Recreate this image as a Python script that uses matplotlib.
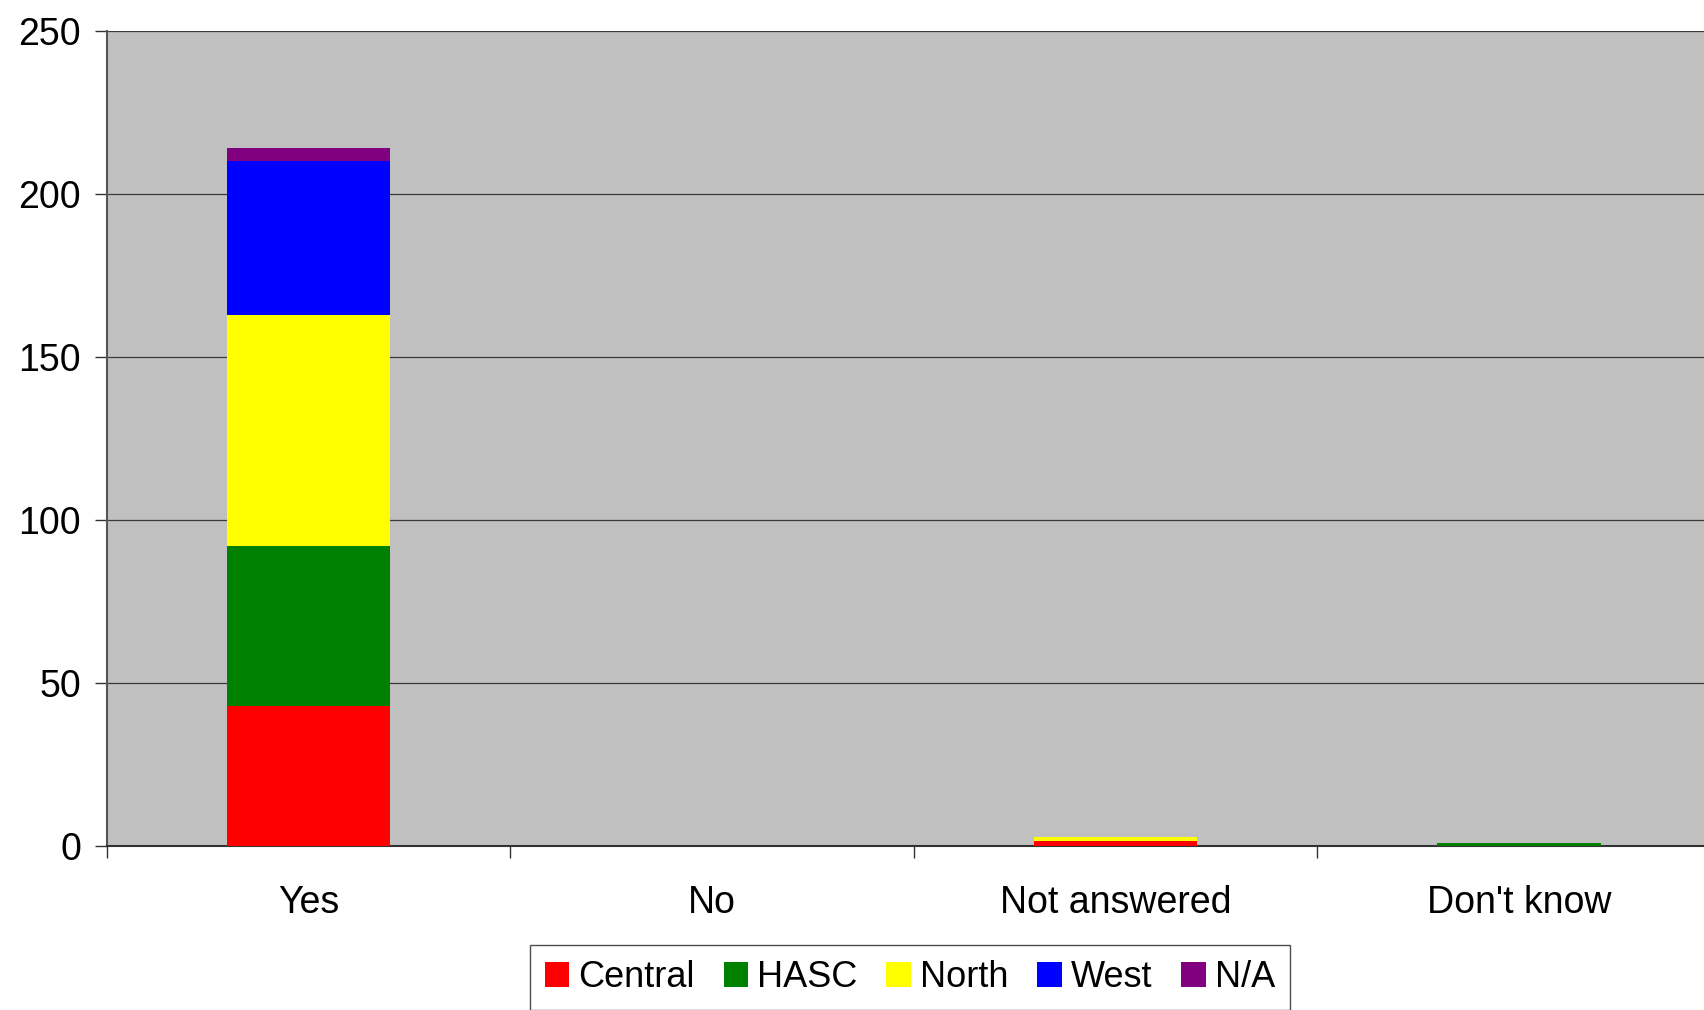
import numpy as np
import matplotlib.pyplot as plt

plt.rcParams['font.family'] = ['Liberation Sans', 'DejaVu Sans']

categories = ["Yes", "No", "Not answered", "Don't know"]
regions = ["Central", "HASC", "North", "West", "N/A"]
colors = ["#FF0000", "#008000", "#FFFF00", "#0000FF", "#800080"]

central = [43, 0, 1.5, 0]
hasc = [49, 0, 0, 0.8]
north = [71, 0, 1.2, 0]
west = [47, 0, 0, 0]
na = [4, 0, 0, 0]
series = [central, hasc, north, west, na]

fig = plt.figure(figsize=(17.04, 10.10), dpi=100)
ax = fig.add_axes([0.0628, 0.1627, 0.947, 0.8066])
ax.set_facecolor("#C0C0C0")

x = np.arange(len(categories))
bottom = np.zeros(len(categories))
for name, vals, c in zip(regions, series, colors):
    ax.bar(x, vals, width=0.405, bottom=bottom, color=c, label=name, zorder=3)
    bottom += np.array(vals)

ax.set_xlim(-0.5, 3.5)
ax.set_ylim(0, 250)
ax.set_yticks(np.arange(0, 251, 50))
ax.yaxis.grid(True, color="#3a3a3a", linewidth=0.9, zorder=1)
ax.set_axisbelow(True)

ax.set_xticks(x)
ax.set_xticklabels(categories)
ax.set_xticks(np.arange(-0.5, 3.6, 1), minor=True)
ax.tick_params(axis="x", which="major", length=0, pad=28, labelsize=27)
ax.tick_params(axis="x", which="minor", length=12 / 1.389, width=1, color="#333333")
ax.tick_params(axis="y", length=12 / 1.389, width=1, color="#333333", pad=10, labelsize=27)

for side in ["top", "right"]:
    ax.spines[side].set_visible(False)
ax.spines["left"].set_color("#555555")
ax.spines["left"].set_linewidth(1.5)
ax.spines["bottom"].set_color("#333333")
ax.spines["bottom"].set_linewidth(1.5)

leg = fig.legend(loc="upper center", bbox_to_anchor=(0.534, 0.0647), ncol=5,
                 fontsize=26, frameon=True, fancybox=False, edgecolor="#222222",
                 handlelength=0.68, handleheight=0.68, handletextpad=0.25,
                 columnspacing=0.8, borderpad=0.42, borderaxespad=0)
leg.get_frame().set_linewidth(1)

fig.savefig("out.png", dpi=100)
